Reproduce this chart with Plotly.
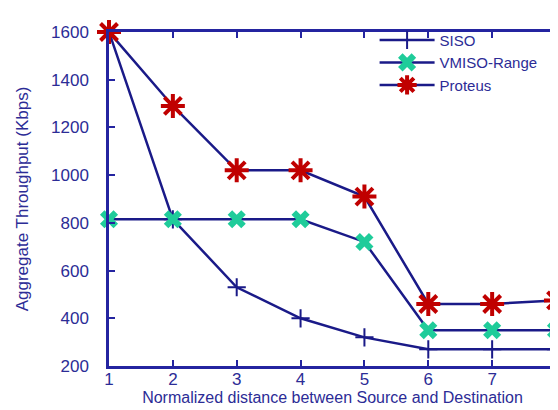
import plotly.graph_objects as go

distance = [1, 2, 3, 4, 5, 6, 7, 8]
siso = [1600, 815, 530, 400, 320, 270, 270, 270]
vmiso_range = [815, 815, 815, 815, 720, 350, 350, 350]
proteus = [1600, 1290, 1020, 1020, 910, 460, 460, 475]

x_ticks = [1, 2, 3, 4, 5, 6, 7, 8]
y_ticks = [200, 400, 600, 800, 1000, 1200, 1400, 1600]

LINE = "#1a1a88"
AXIS = "#2424a0"
TEXT = "#2c2c96"
FONT = "Liberation Sans, Arial"

fig = go.Figure()
fig.add_trace(go.Scatter(
    x=distance, y=siso, name="SISO", mode="lines+markers",
    line=dict(color=LINE, width=2.5),
    marker=dict(symbol="cross-thin", size=13, line=dict(color=LINE, width=2)),
    cliponaxis=False))
fig.add_trace(go.Scatter(
    x=distance, y=vmiso_range, name="VMISO-Range", mode="lines+markers",
    line=dict(color=LINE, width=2.5),
    marker=dict(symbol="x", size=16, color="#1fcc9a", line=dict(width=0)),
    cliponaxis=False))
fig.add_trace(go.Scatter(
    x=distance, y=proteus, name="Proteus", mode="lines+markers",
    line=dict(color=LINE, width=2.5),
    marker=dict(symbol="asterisk", size=20, color="#c00000", line=dict(color="#c00000", width=4)),
    cliponaxis=False))

axis_common = dict(
    showline=True, linecolor=AXIS, linewidth=2.5, mirror="ticks",
    ticks="inside", ticklen=6, tickwidth=2, tickcolor=AXIS,
    showgrid=False, zeroline=False,
    tickfont=dict(family=FONT, size=17, color=TEXT),
)

fig.update_layout(
    width=558, height=410,
    margin=dict(l=101, r=5, t=24, b=52),
    paper_bgcolor="white", plot_bgcolor="white",
    font=dict(family=FONT, color=TEXT),
    xaxis=dict(range=[1, 8], tickvals=x_ticks, **axis_common,
               ticklabelstandoff=-4,
               title=dict(text="Normalized distance between Source and Destination",
                          font=dict(size=16, color=TEXT), standoff=2)),
    yaxis=dict(range=[200, 1600], tickvals=y_ticks, **axis_common,
               ticklabelstandoff=14,
               title=dict(text="Aggregate Throughput (Kbps)",
                          font=dict(size=17, color=TEXT), standoff=19)),
    legend=dict(x=0.97, y=1.025, xanchor="right", yanchor="top",
                bgcolor="rgba(255,255,255,0)", font=dict(size=15, color=TEXT),
                itemwidth=55, tracegroupgap=0),
)

fig.write_html("out.html")
